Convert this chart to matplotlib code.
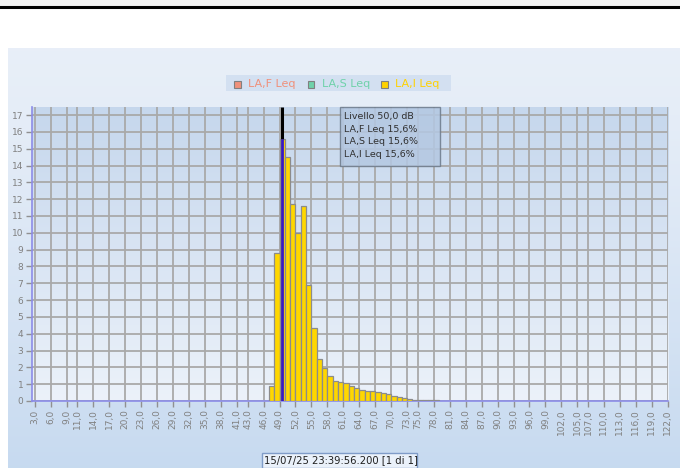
# Level distribution chart (LA,I Leq histogram)

import numpy as np
import matplotlib.pyplot as plt
from matplotlib.patches import Rectangle
from matplotlib.lines import Line2D

################################### Data #######################################

levels = list(range(47, 79))  # dB, left edge of each 1 dB bin
la_i = [0.9, 8.8, 15.6, 14.5, 11.7, 10.0, 11.6, 6.9, 4.35, 2.5, 1.95, 1.5,
        1.17, 1.12, 1.09, 0.89, 0.79, 0.67, 0.61, 0.61, 0.55, 0.47, 0.40,
        0.32, 0.24, 0.18, 0.12, 0.05, 0.05, 0.05, 0.05, 0.05]
x_ticks = [3, 6, 9, 11, 14, 17, 20, 23, 26, 29, 32, 35, 38, 41, 43, 46, 49,
           52, 55, 58, 61, 64, 67, 70, 73, 75, 78, 81, 84, 87, 90, 93, 96, 99,
           102, 105, 107, 110, 113, 116, 119, 122]
y_ticks = list(range(0, 18))
series = ['LA,F Leq', 'LA,S Leq', 'LA,I Leq']
series_colors = ['#f0907a', '#6fd2aa', '#ffd200']
cursor_level = 49.5
tooltip_lines = ['Livello 50,0 dB', 'LA,F Leq 15,6%', 'LA,S Leq 15,6%', 'LA,I Leq 15,6%']
footer = '15/07/25 23:39:56.200 [1 di 1]'

################################# Figure #######################################

W, H = 680, 468
fig = plt.figure(figsize=(W / 100, H / 100), dpi=100)
fig.patch.set_facecolor('white')

def fx(px):
    return px / W

def fy(py):
    return 1 - py / H

# top gray strip + black rule
fig.patches.append(Rectangle((0, fy(5.5)), 1, 5.5 / H, transform=fig.transFigure,
                             facecolor='#f2f2f2', edgecolor='none', zorder=0))
fig.lines.append(Line2D([0, 1], [fy(6.5), fy(6.5)], transform=fig.transFigure,
                        color='black', lw=2.2, zorder=1))

# panel background with vertical gradient
bg = fig.add_axes([fx(7.5), 0, 1 - fx(7.5), fy(47.5)], zorder=-5)
grad = np.linspace(0, 1, 256).reshape(-1, 1)
c_top = np.array([0.910, 0.937, 0.973])
c_bot = np.array([0.780, 0.855, 0.941])
img = c_top + (c_bot - c_top) * grad[..., None] ** 1.3
bg.imshow(img.reshape(256, 1, 3), aspect='auto', extent=[0, 1, 0, 1])
bg.axis('off')

################################# Plot area ####################################

ax = fig.add_axes([fx(31.7), fy(401), fx(668) - fx(31.7), fy(107.3) - fy(401)])
xmin, xmax, ymin, ymax = 2.4, 122.05, 0, 17.46
p_top = np.array([0.775, 0.843, 0.929])
p_bot = np.array([0.925, 0.949, 0.980])
pimg = p_top + (p_bot - p_top) * grad[..., None]
ax.imshow(pimg.reshape(256, 1, 3), aspect='auto', extent=[xmin, xmax, ymin, ymax], zorder=0)
ax.set_xlim(xmin, xmax)
ax.set_ylim(ymin, ymax)

ax.set_xticks(x_ticks)
ax.set_xticklabels([f'{v},0' for v in x_ticks], rotation=90, fontsize=6.5, color='#808080')
ax.set_yticks(y_ticks)
ax.set_yticklabels([str(v) for v in y_ticks], fontsize=6.5, color='#808080')
ax.tick_params(axis='both', length=4, width=1, color='#909090', pad=2)
ax.grid(True, color='#a9a9a9', lw=1.3, zorder=0.5)
ax.set_axisbelow(True)
for s in ['top', 'right']:
    ax.spines[s].set_visible(False)
for s in ['left', 'bottom']:
    ax.spines[s].set_color('#8c8ce8')
    ax.spines[s].set_linewidth(1.2)

ax.bar(levels, la_i, width=1, align='edge', color='#ffd700',
       edgecolor='#8c8c8c', lw=0.9, zorder=3)

# cursor
peak = la_i[levels.index(int(cursor_level))]
ax.plot([cursor_level, cursor_level], [peak, ymax], color='black', lw=2.2, zorder=4, solid_capstyle='butt')
ax.plot([cursor_level, cursor_level], [0, peak], color='#3418c8', lw=2.0, zorder=4, solid_capstyle='butt')

################################# Tooltip ######################################

fig.patches.append(Rectangle((fx(340), fy(166)), fx(440) - fx(340), (166 - 107) / H,
                             transform=fig.transFigure, facecolor='#b4c8e2', alpha=0.85,
                             edgecolor='#6d7a8a', lw=1.0, zorder=10))
for i, t in enumerate(tooltip_lines):
    fig.text(fx(343.5), fy(116 + 13 * i), t, fontsize=6.8, color='#303030',
             va='center', ha='left', zorder=11)

################################# Legend #######################################

fig.patches.append(Rectangle((fx(226), fy(90.5)), fx(451) - fx(226), 16 / H,
                             transform=fig.transFigure, facecolor='#d3e0f1',
                             edgecolor='none', zorder=2))
sq_x = [234, 307.7, 381]
tx_x = [248.3, 321.7, 395]
for name, col, sx, tx in zip(series, series_colors, sq_x, tx_x):
    fig.patches.append(Rectangle((fx(sx), fy(87.5)), 6.5 / W, 6.5 / H,
                                 transform=fig.transFigure, facecolor=col,
                                 edgecolor='#808080', lw=0.8, zorder=3))
    fig.text(fx(tx), fy(84), name, fontsize=8, color=col, va='center', ha='left', zorder=3)

################################# Footer tab ###################################

fig.patches.append(Rectangle((fx(262), 0), fx(417) - fx(262), 15.5 / H,
                             transform=fig.transFigure, facecolor='#eaf1fa',
                             edgecolor='#7f9cc8', lw=1.0, zorder=5))
fig.text(fx(264.5), fy(460.5), footer, fontsize=7.2, color='#202020',
         va='center', ha='left', zorder=6)

fig.savefig('out.png', dpi=100)
